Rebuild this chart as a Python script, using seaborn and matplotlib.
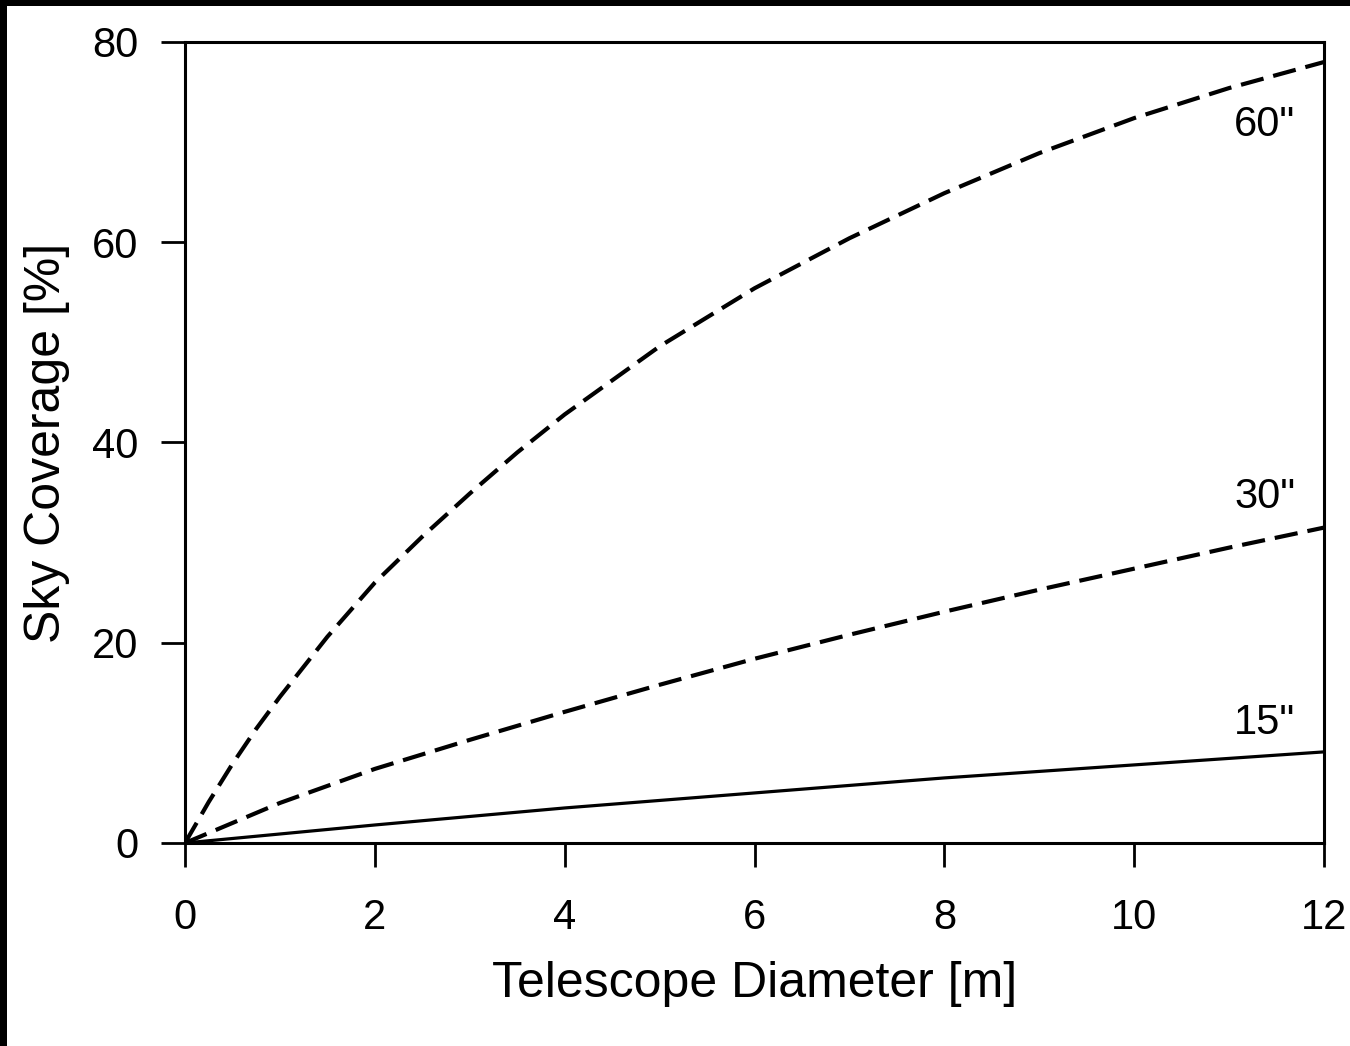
import matplotlib
matplotlib.use("Agg")
import matplotlib.pyplot as plt
import seaborn as sns
import pandas as pd
from matplotlib.patches import Rectangle

# ---- data ----
x_60 = [0, 0.25, 0.5, 0.75, 1, 1.5, 2, 2.5, 3, 3.5, 4, 5, 6, 7, 8, 9, 10, 11, 12]
y_60 = [0, 4.1, 7.9, 11.4, 14.6, 20.6, 26.0, 30.6, 34.9, 39.0, 42.8, 49.6, 55.4, 60.4, 64.9, 68.9, 72.4, 75.4, 78.0]

x_30 = [0, 0.5, 1, 2, 3, 4, 5, 6, 7, 8, 9, 10, 11, 12]
y_30 = [0, 2.0, 4.0, 7.4, 10.3, 13.1, 15.8, 18.4, 20.8, 23.1, 25.3, 27.4, 29.5, 31.5]

x_15 = [0, 2, 4, 6, 8, 10, 12]
y_15 = [0, 1.8, 3.5, 5.0, 6.5, 7.8, 9.1]

labels = ['60"', '30"', '15"']
label_y = [71.7, 34.6, 12.0]
label_x = 11.70

x_ticks = [0, 2, 4, 6, 8, 10, 12]
y_ticks = [0, 20, 40, 60, 80]

sns.set_theme(style="ticks")
plt.rcParams['font.family'] = ['Liberation Sans', 'DejaVu Sans']

fig = plt.figure(figsize=(13.5, 10.46), dpi=100)
fig.patch.set_facecolor('white')
ax = fig.add_axes([185/1350, 1-843/1046, (1324-185)/1350, (843-42)/1046])

df60 = pd.DataFrame({'x': x_60, 'y': y_60})
df30 = pd.DataFrame({'x': x_30, 'y': y_30})
df15 = pd.DataFrame({'x': x_15, 'y': y_15})

sns.lineplot(data=df60, x='x', y='y', ax=ax, color='black', lw=3.0,
             linestyle=(0, (5.6, 2.4)), estimator=None, sort=True)
sns.lineplot(data=df30, x='x', y='y', ax=ax, color='black', lw=3.0,
             linestyle=(0, (5.6, 2.4)), estimator=None, sort=True)
sns.lineplot(data=df15, x='x', y='y', ax=ax, color='black', lw=2.3,
             linestyle='-', estimator=None, sort=True)

for lab, ly in zip(labels, label_y):
    ax.text(label_x, ly, lab, ha='right', va='center', fontsize=30, color='black')

ax.set_xlim(0, 12)
ax.set_ylim(0, 80)
ax.set_xticks(x_ticks)
ax.set_yticks(y_ticks)
ax.set_xticklabels([str(t) for t in x_ticks])
ax.set_yticklabels([str(t) for t in y_ticks])
ax.tick_params(axis='both', which='major', direction='out', length=17.5, width=2.0,
               labelsize=30, color='black', labelcolor='black')
ax.tick_params(axis='x', pad=22)
ax.tick_params(axis='y', pad=16)
for s in ax.spines.values():
    s.set_visible(True)
    s.set_linewidth(2.2)
    s.set_color('black')

ax.set_xlabel('Telescope Diameter [m]', fontsize=36, color='black', labelpad=17)
ax.set_ylabel('Sky Coverage [%]', fontsize=36, color='black', labelpad=16)
ax.grid(False)
ax.set_facecolor('white')

# black frame strips on top and left edges
fig.patches.append(Rectangle((0, 1-6/1046), 1, 6/1046, transform=fig.transFigure,
                             facecolor='black', edgecolor='none', zorder=10))
fig.patches.append(Rectangle((0, 0), 7/1350, 1, transform=fig.transFigure,
                             facecolor='black', edgecolor='none', zorder=10))

fig.savefig('out.png', dpi=100, facecolor='white')
